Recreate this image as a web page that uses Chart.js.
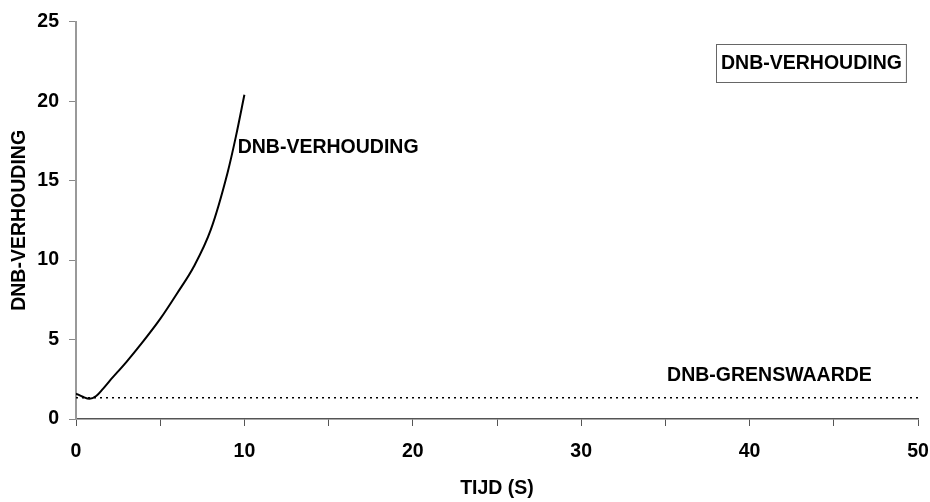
<!DOCTYPE html>
<html>
<head>
<meta charset="utf-8">
<script src="https://cdn.jsdelivr.net/npm/chart.js@4"></script>
<style>
  html, body { margin: 0; padding: 0; background: #fff; }
  #wrap { width: 930px; height: 502px; position: relative; }
</style>
</head>
<body>
<div id="wrap"><canvas id="chart"></canvas></div>
<script>
// Data
const tijd = [0, 0.4, 0.8, 1.2, 1.6, 2, 3, 4, 5, 6, 7, 8, 9, 9.5, 10];
const dnbVerhouding = [1.6, 1.4, 1.27, 1.45, 1.9, 2.4, 3.6, 4.9, 6.3, 7.9, 9.6, 11.9, 15.5, 17.8, 20.4];
const grensTijd = [0, 50];
const grenswaarde = [1.33, 1.33];
const xTicks = [0, 5, 10, 15, 20, 25, 30, 35, 40, 45, 50];
const yTicks = [0, 5, 10, 15, 20, 25];

const FONT = 'Liberation Sans, Arial, sans-serif';

// Labels drawn at data coordinates
const labelsPlugin = {
  id: 'labels',
  afterDatasetsDraw(chart) {
    const { ctx, scales: { x, y } } = chart;
    ctx.save();
    ctx.fillStyle = '#000';
    ctx.font = 'bold 19.5px ' + FONT;
    ctx.textBaseline = 'middle';
    ctx.textAlign = 'left';
    ctx.fillText('DNB-VERHOUDING', x.getPixelForValue(9.6), y.getPixelForValue(17.1));
    ctx.fillText('DNB-GRENSWAARDE', x.getPixelForValue(35.1), y.getPixelForValue(2.75));

    // legend box
    const text = 'DNB-VERHOUDING';
    const w = ctx.measureText(text).width;
    const bx = 716, by = 44, bw = w + 9, bh = 38;
    ctx.fillStyle = '#fff';
    ctx.fillRect(bx, by, bw, bh);
    ctx.strokeStyle = '#666';
    ctx.lineWidth = 1;
    ctx.strokeRect(bx + 0.5, by + 0.5, bw, bh);
    ctx.fillStyle = '#000';
    ctx.fillText(text, bx + 5, by + bh / 2 + 1);
    ctx.restore();
  }
};

new Chart(document.getElementById('chart'), {
  type: 'line',
  data: {
    datasets: [
      {
        label: 'DNB-VERHOUDING',
        data: tijd.map((t, i) => ({ x: t, y: dnbVerhouding[i] })),
        borderColor: '#000',
        borderWidth: 2,
        pointRadius: 0,
        cubicInterpolationMode: 'monotone',
        fill: false
      },
      {
        label: 'DNB-GRENSWAARDE',
        data: grensTijd.map((t, i) => ({ x: t, y: grenswaarde[i] })),
        borderColor: '#000',
        borderWidth: 1.5,
        borderDash: [2, 4],
        pointRadius: 0,
        fill: false
      }
    ]
  },
  options: {
    responsive: true,
    maintainAspectRatio: false,
    animation: false,
    layout: { padding: { top: 17, right: 0, left: 4, bottom: 0 } },
    plugins: { legend: { display: false }, tooltip: { enabled: false } },
    scales: {
      x: {
        type: 'linear',
        min: 0, max: 50,
        afterBuildTicks: s => { s.ticks = xTicks.map(v => ({ value: v })); },
        afterFit: s => { s.height = 83; s.paddingRight = 12; },
        grid: { display: true, drawOnChartArea: false, drawTicks: true, tickLength: 7, color: '#555' },
        border: { color: '#555', width: 1.5 },
        ticks: {
          color: '#000',
          font: { family: FONT, size: 19.5, weight: 'bold' },
          padding: 14,
          maxRotation: 0,
          callback: v => (v % 10 === 0 ? v : '')
        },
        title: {
          display: true,
          text: 'TIJD (S)',
          color: '#000',
          font: { family: FONT, size: 19.5, weight: 'bold' },
          padding: { top: 4, bottom: 2 }
        }
      },
      y: {
        min: 0, max: 25,
        afterBuildTicks: s => { s.ticks = yTicks.map(v => ({ value: v })); },
        afterFit: s => { s.width = 72; },
        grid: { display: true, drawOnChartArea: false, drawTicks: true, tickLength: 7, color: '#888' },
        border: { color: '#999', width: 2 },
        ticks: {
          color: '#000',
          font: { family: FONT, size: 19.5, weight: 'bold' },
          padding: 10
        },
        title: {
          display: true,
          text: 'DNB-VERHOUDING',
          color: '#000',
          font: { family: FONT, size: 19.5, weight: 'bold' },
          padding: { bottom: 4 }
        }
      }
    }
  },
  plugins: [labelsPlugin]
});
</script>
</body>
</html>
